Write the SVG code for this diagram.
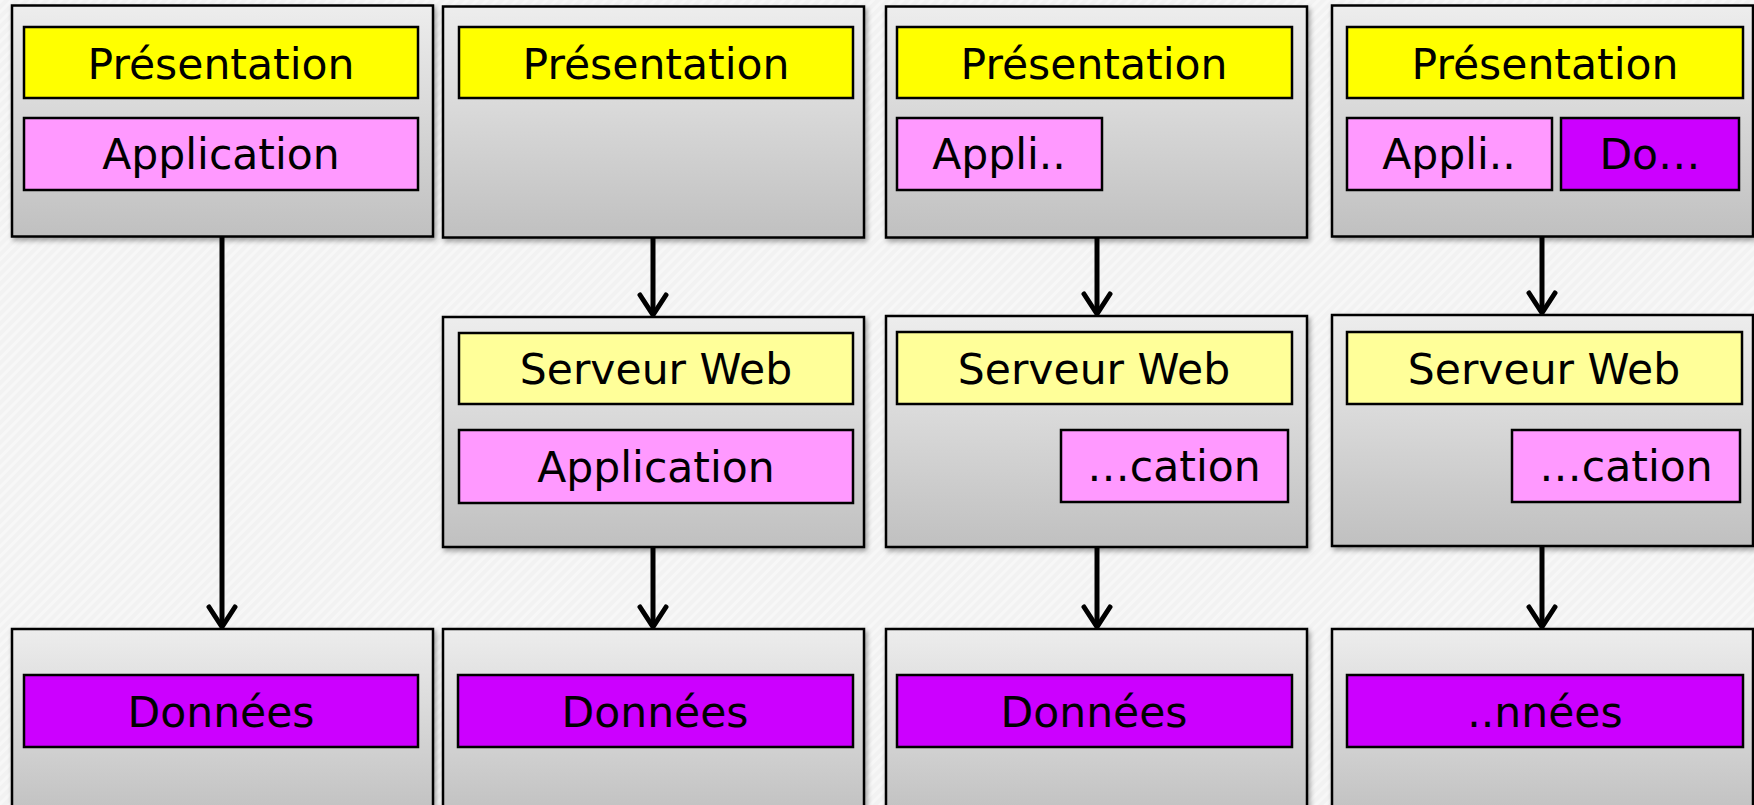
<svg xmlns="http://www.w3.org/2000/svg" width="1754" height="805" viewBox="0 0 1754 805">
<defs>
<linearGradient id="boxg" x1="0" y1="0" x2="0" y2="1">
<stop offset="0" stop-color="#ededed"/>
<stop offset="1" stop-color="#c0c0c0"/>
</linearGradient>
<pattern id="stripes" width="7" height="7" patternUnits="userSpaceOnUse" patternTransform="rotate(45)">
<rect width="7" height="7" fill="#f2f2f2"/>
<rect width="3" height="7" fill="#f7f7f7"/>
</pattern>
<filter id="sh" x="-5%" y="-5%" width="112%" height="115%">
<feDropShadow dx="2" dy="3" stdDeviation="2.5" flood-color="#000" flood-opacity="0.35"/>
</filter>
</defs>
<style>
.outer{fill:url(#boxg);stroke:#000;stroke-width:2.5;filter:url(#sh)}
.inner{stroke:#000;stroke-width:2.5}
.pres{fill:#ffff00}
.web{fill:#ffff99}
.app{fill:#ff99ff}
.data{fill:#cc00ff}
text{font-family:"DejaVu Sans","Verdana",sans-serif;font-size:42.5px;fill:#000;text-anchor:middle}
.conn line{stroke:#000;stroke-width:5}
.conn path{fill:none;stroke:#000;stroke-width:5;stroke-linecap:round;stroke-linejoin:round}
</style>
<rect width="1754" height="805" fill="url(#stripes)"/>

<g id="col1-client">
<rect class="outer" x="12" y="5.5" width="421" height="231"/>
<rect class="inner pres" x="24" y="27" width="394" height="71"/>
<text x="221" y="79">Présentation</text>
<rect class="inner app" x="24" y="118" width="394" height="72"/>
<text x="221" y="169">Application</text>
</g>
<g id="col1-data">
<rect class="outer" x="12" y="629" width="421" height="190"/>
<rect class="inner data" x="24" y="675" width="394" height="72"/>
<text x="221" y="727">Données</text>
</g>

<g id="col2-client">
<rect class="outer" x="443" y="6.5" width="421" height="231"/>
<rect class="inner pres" x="459" y="27" width="394" height="71"/>
<text x="656" y="79">Présentation</text>
</g>
<g id="col2-server">
<rect class="outer" x="443" y="317" width="421" height="230"/>
<rect class="inner web" x="459" y="333" width="394" height="71"/>
<text x="656" y="384">Serveur Web</text>
<rect class="inner app" x="459" y="430" width="394" height="73"/>
<text x="656" y="482">Application</text>
</g>
<g id="col2-data">
<rect class="outer" x="443" y="629" width="421" height="190"/>
<rect class="inner data" x="458" y="675" width="395" height="72"/>
<text x="655" y="727">Données</text>
</g>

<g id="col3-client">
<rect class="outer" x="886" y="6.5" width="421" height="231"/>
<rect class="inner pres" x="897" y="27" width="395" height="71"/>
<text x="1094" y="79">Présentation</text>
<rect class="inner app" x="897" y="118" width="205" height="72"/>
<text x="999" y="169">Appli..</text>
</g>
<g id="col3-server">
<rect class="outer" x="886" y="316" width="421" height="231"/>
<rect class="inner web" x="897" y="332" width="395" height="72"/>
<text x="1094" y="384">Serveur Web</text>
<rect class="inner app" x="1061" y="430" width="227" height="72"/>
<text x="1174" y="481">…cation</text>
</g>
<g id="col3-data">
<rect class="outer" x="886" y="629" width="421" height="190"/>
<rect class="inner data" x="897" y="675" width="395" height="72"/>
<text x="1094" y="727">Données</text>
</g>

<g id="col4-client">
<rect class="outer" x="1332" y="5.5" width="421" height="231"/>
<rect class="inner pres" x="1347" y="27" width="396" height="71"/>
<text x="1545" y="79">Présentation</text>
<rect class="inner app" x="1347" y="118" width="205" height="72"/>
<text x="1449" y="169">Appli..</text>
<rect class="inner data" x="1561" y="118" width="178" height="72"/>
<text x="1650" y="169">Do…</text>
</g>
<g id="col4-server">
<rect class="outer" x="1332" y="315" width="421" height="231"/>
<rect class="inner web" x="1347" y="332" width="395" height="72"/>
<text x="1544" y="384">Serveur Web</text>
<rect class="inner app" x="1512" y="430" width="228" height="72"/>
<text x="1626" y="481">…cation</text>
</g>
<g id="col4-data">
<rect class="outer" x="1332" y="629" width="421" height="190"/>
<rect class="inner data" x="1347" y="675" width="396" height="72"/>
<text x="1545" y="727">..nnées</text>
</g>

<g id="connectors" class="conn">
<line x1="222" y1="237" x2="222" y2="626"/>
<path d="M209,607 L222,627 L235,607"/>
<line x1="653" y1="238" x2="653" y2="314"/>
<path d="M640,295 L653,315 L666,295"/>
<line x1="653" y1="547" x2="653" y2="626"/>
<path d="M640,607 L653,627 L666,607"/>
<line x1="1097" y1="238" x2="1097" y2="313"/>
<path d="M1084,294 L1097,314 L1110,294"/>
<line x1="1097" y1="547" x2="1097" y2="626"/>
<path d="M1084,607 L1097,627 L1110,607"/>
<line x1="1542" y1="237" x2="1542" y2="312"/>
<path d="M1529,293 L1542,313 L1555,293"/>
<line x1="1542" y1="546" x2="1542" y2="626"/>
<path d="M1529,607 L1542,627 L1555,607"/>
</g>
</svg>
